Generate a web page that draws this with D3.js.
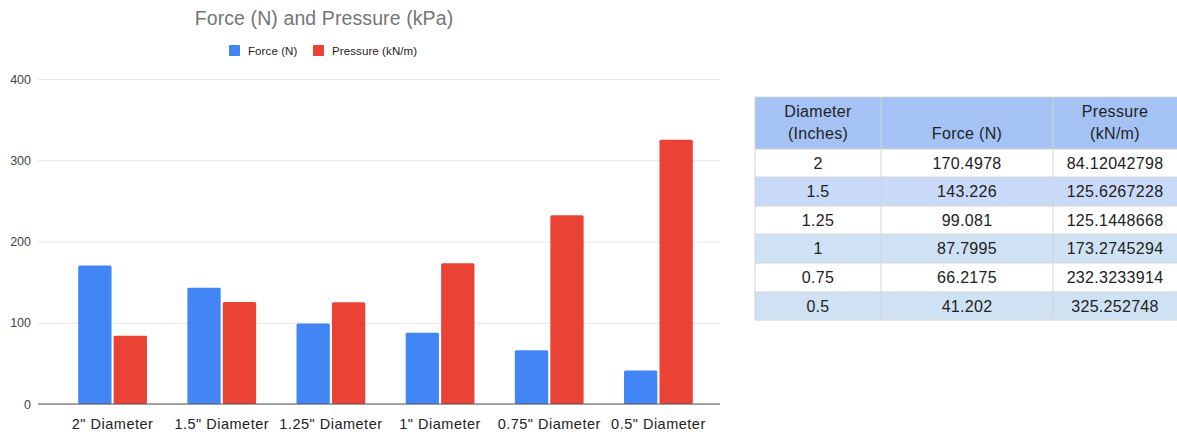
<!DOCTYPE html>
<html>
<head>
<meta charset="utf-8">
<script src="https://cdn.jsdelivr.net/npm/d3@7"></script>
<style>
  html, body { margin: 0; padding: 0; background: #fff; }
  svg { display: block; font-family: "Liberation Sans", Arial, sans-serif; }
</style>
</head>
<body>
<svg id="chart" width="1177" height="435"></svg>
<script>
// Diameter categories and measured values
const categories = ['2" Diameter', '1.5" Diameter', '1.25" Diameter', '1" Diameter', '0.75" Diameter', '0.5" Diameter'];
const diameters = ["2", "1.5", "1.25", "1", "0.75", "0.5"];
const force = [170.4978, 143.226, 99.081, 87.7995, 66.2175, 41.202];
const pressure = [84.12042798, 125.6267228, 125.1448668, 173.2745294, 232.3233914, 325.252748];
const seriesNames = ["Force (N)", "Pressure (kN/m)"];
const yTicks = [0, 100, 200, 300, 400];
const headers = [["Diameter", "(Inches)"], ["Force (N)"], ["Pressure", "(kN/m)"]];

const colors = ["#4285f4", "#ea4335"];
const svg = d3.select("#chart");

// ---- Bar chart ----
const plotLeft = 38, plotRight = 720, plotTop = 79, plotBottom = 404;

const y = d3.scaleLinear().domain([0, 400]).range([plotBottom, plotTop]);
const x0 = d3.scaleBand().domain(categories).range([58, 713])
  .paddingInner(0.37).paddingOuter(0.185);
const x1 = d3.scaleBand().domain(seriesNames).range([0, x0.bandwidth()]).paddingInner(0.06);

// gridlines
const yAxis = d3.axisLeft(y).tickValues(yTicks).tickSize(-(plotRight - plotLeft)).tickPadding(7);
const gy = svg.append("g").attr("transform", `translate(${plotLeft},0)`).call(yAxis);
gy.select(".domain").remove();
gy.selectAll(".tick line").attr("stroke", "#e6e6e6").attr("stroke-width", 1);
gy.selectAll(".tick text").attr("fill", "#444").attr("font-size", 12.5)
  .attr("font-family", "Liberation Sans, Arial, sans-serif");

// bars
const groups = svg.append("g").selectAll("g").data(categories).join("g")
  .attr("transform", d => `translate(${x0(d)},0)`);
groups.selectAll("rect")
  .data((d, i) => [force[i], pressure[i]].map((v, k) => ({ v, k })))
  .join("rect")
  .attr("x", d => x1(seriesNames[d.k]))
  .attr("width", x1.bandwidth())
  .attr("y", d => y(d.v))
  .attr("height", d => y(0) - y(d.v))
  .attr("rx", 1.5)
  .attr("fill", d => colors[d.k]);

// baseline
svg.append("line").attr("x1", plotLeft).attr("x2", plotRight)
  .attr("y1", y(0)).attr("y2", y(0)).attr("stroke", "#555").attr("stroke-width", 1);

// x labels
const xAxis = d3.axisBottom(x0).tickSize(0).tickPadding(15);
const gx = svg.append("g").attr("transform", `translate(0,${plotBottom})`).call(xAxis);
gx.select(".domain").remove();
gx.selectAll(".tick text").attr("fill", "#222").attr("font-size", 14.5)
  .attr("letter-spacing", 0.5)
  .attr("font-family", "Liberation Sans, Arial, sans-serif");

// title
svg.append("text").attr("x", 324).attr("y", 25).attr("text-anchor", "middle")
  .attr("font-size", 19.5).attr("letter-spacing", 0.1)
  .attr("fill", "#757575").text("Force (N) and Pressure (kPa)");

// legend
const legend = svg.append("g").attr("transform", "translate(229,45)");
const legendX = [0, 84];
seriesNames.forEach((name, i) => {
  const g = legend.append("g").attr("transform", `translate(${legendX[i]},0)`);
  g.append("rect").attr("width", 11).attr("height", 11).attr("rx", 1).attr("fill", colors[i]);
  g.append("text").attr("x", 19).attr("y", 9.5).attr("font-size", 11.5)
    .attr("letter-spacing", 0.1).attr("fill", "#222").text(name);
});

// ---- Data table ----
const colEdges = [755, 881, 1053, 1177];
const rowEdges = [97, 149, 177, 206, 234, 263, 292, 320];
const rowFills = ["#a4c2f4", "#ffffff", "#c9daf8", "#ffffff", "#cfe2f3", "#ffffff", "#cfe2f3"];
const table = svg.append("g");

table.selectAll("rect.row").data(rowFills).join("rect").attr("class", "row")
  .attr("x", colEdges[0]).attr("width", colEdges[3] - colEdges[0])
  .attr("y", (d, i) => rowEdges[i]).attr("height", (d, i) => rowEdges[i + 1] - rowEdges[i])
  .attr("fill", d => d);

// grid lines
table.selectAll("line.h").data(rowEdges).join("line").attr("class", "h")
  .attr("x1", colEdges[0]).attr("x2", colEdges[3]).attr("y1", d => d).attr("y2", d => d)
  .attr("stroke", "#d4d4d4");
table.selectAll("line.v").data(colEdges.slice(0, 3)).join("line").attr("class", "v")
  .attr("x1", d => d).attr("x2", d => d).attr("y1", rowEdges[0]).attr("y2", rowEdges[rowEdges.length - 1])
  .attr("stroke", "#d4d4d4");

const colCenter = i => (colEdges[i] + colEdges[i + 1]) / 2;

// header text, bottom-aligned
headers.forEach((lines, c) => {
  const t = table.append("text").attr("text-anchor", "middle").attr("font-size", 16)
    .attr("letter-spacing", 0.3).attr("fill", "#222");
  lines.forEach((ln, j) => {
    t.append("tspan").attr("x", colCenter(c))
      .attr("y", 139 - (lines.length - 1 - j) * 22).text(ln);
  });
});

// body rows
const rows = diameters.map((d, i) => [d, String(force[i]), String(pressure[i])]);
rows.forEach((r, i) => {
  const cy = (rowEdges[i + 1] + rowEdges[i + 2]) / 2;
  r.forEach((v, c) => {
    table.append("text").attr("x", colCenter(c)).attr("y", cy + 5.5)
      .attr("text-anchor", "middle").attr("font-size", 16).attr("letter-spacing", 0.3)
      .attr("fill", "#222").text(v);
  });
});
</script>
</body>
</html>
